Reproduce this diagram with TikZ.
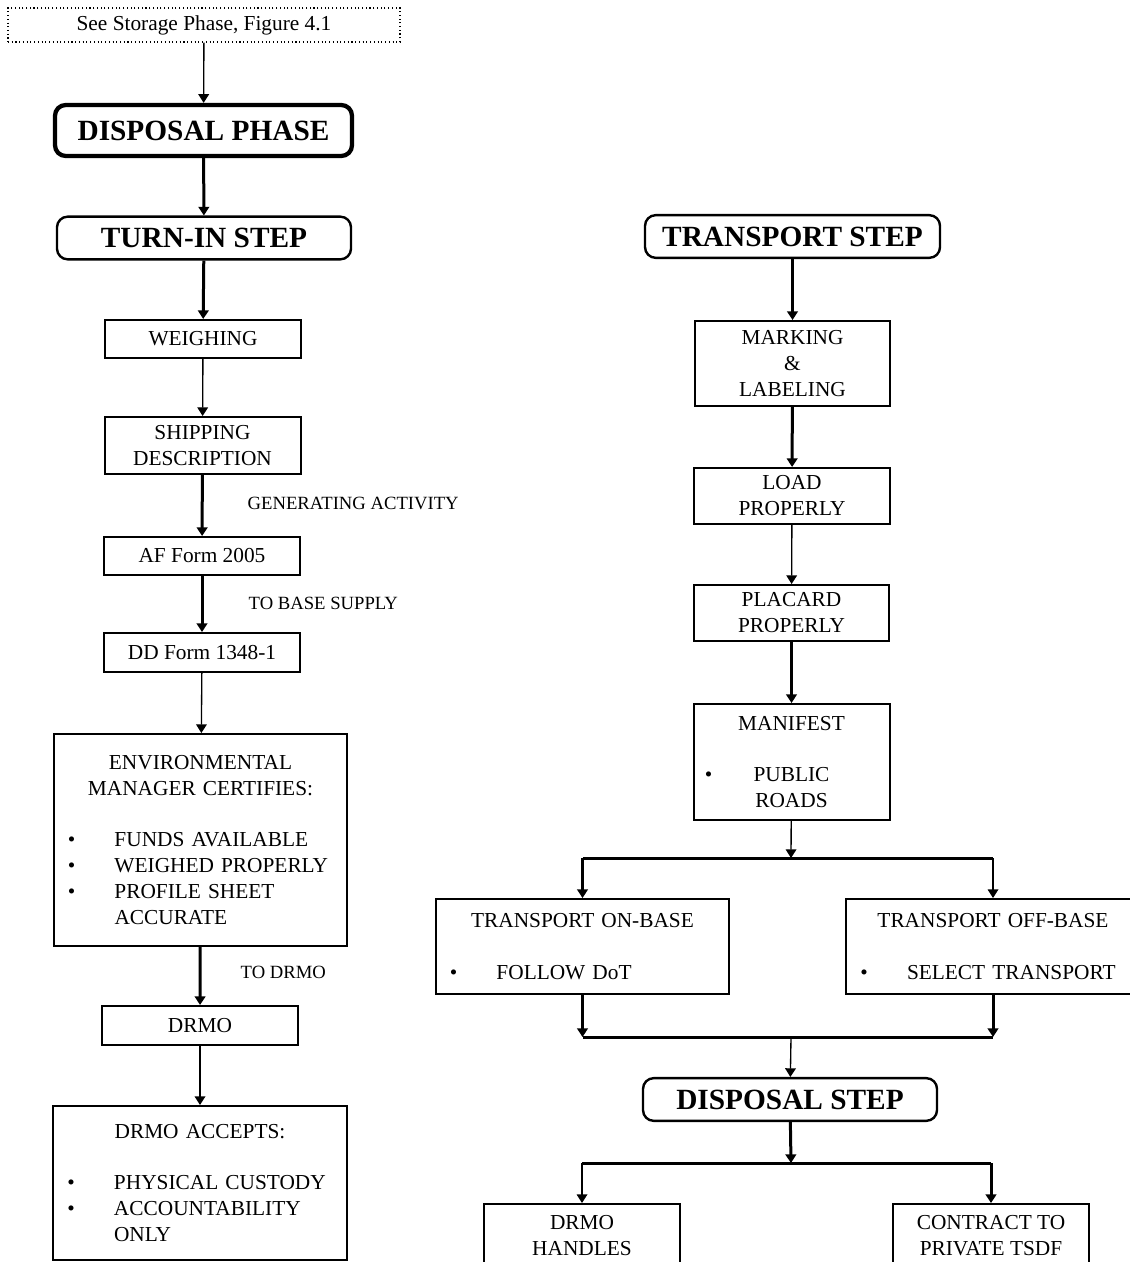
\documentclass[tikz,border=0pt]{standalone}
\usepackage{fontspec}
\setmainfont{Liberation Serif}
\usepackage{tikz}
\usetikzlibrary{arrows.meta}

\newcommand\bitem[1]{\makebox[\hsize][l]{\makebox[35pt][l]{\textbullet}#1}}
\newcommand\bcont[1]{\makebox[\hsize][l]{\hspace{35pt}#1}}

\begin{document}
\begin{tikzpicture}[x=0.75pt, y=-0.75pt,
  every node/.style={font=\fontsize{16}{19.5}\selectfont},
  box/.style={draw, line width=1.5pt, align=center, minimum width=147pt, minimum height=28.5pt},
  wbox/.style={draw, line width=1.5pt, align=center, text width=199pt, inner xsep=10.5pt},
  title/.style={draw, rounded corners=8pt, line width=1.8pt, font=\fontsize{22}{26}\selectfont\bfseries, minimum width=220.5pt, minimum height=32pt},
  seebox/.style={draw, dotted, line width=0.8pt, minimum width=294pt, minimum height=25.5pt},
  lbl/.style={font=\fontsize{14}{17}\selectfont, anchor=west},
  thickarr/.style={line width=2.25pt, -{Triangle[width=8pt,length=6.5pt]}},
  thinarr/.style={line width=1pt, -{Triangle[width=8pt,length=6.5pt]}},
  wire/.style={line width=2.25pt}]
\useasboundingbox (0,0) rectangle (1130,1262);

% left column
\node[seebox] (see) at (204,25) {See Storage Phase, Figure 4.1};
\node[title, line width=3.2pt, minimum width=222.75pt, minimum height=38.25pt] (phase) at (203.5,130.5) {DISPOSAL PHASE};
\node[title] (turnin) at (204,238) {TURN-IN STEP};
\node[box] (weigh) at (203,339) {WEIGHING};
\node[box, minimum height=42.75pt] (ship) at (202.5,445.5) {SHIPPING\\DESCRIPTION};
\node[box] (af) at (202,556) {AF Form 2005};
\node[box, minimum height=29.25pt] (dd) at (202,652.5) {DD Form 1348-1};
\node[wbox, minimum height=159pt] (env) at (200.5,840) {ENVIRONMENTAL\\MANAGER CERTIFIES:\\[19pt]\bitem{FUNDS AVAILABLE}\\\bitem{WEIGHED PROPERLY}\\\bitem{PROFILE SHEET}\\\bcont{ACCURATE}};
\node[box, minimum height=29.25pt] (drmo) at (200,1025.5) {DRMO};
\node[wbox, minimum height=115.5pt] (accepts) at (200,1183) {DRMO ACCEPTS:\\[19pt]\bitem{PHYSICAL CUSTODY}\\\bitem{ACCOUNTABILITY}\\\bcont{ONLY}};

\node[lbl] (genact) at (243,503) {GENERATING ACTIVITY};
\node[lbl] (tobase) at (244,603) {TO BASE SUPPLY};
\node[lbl] (todrmo) at (236,972) {TO DRMO};

\draw[thinarr] (see) -- (phase);
\draw[thickarr] (phase) -- (turnin);
\draw[thickarr] (turnin) -- (weigh);
\draw[thinarr] (weigh) -- (ship);
\draw[thickarr] (ship) -- (af);
\draw[thickarr] (af) -- (dd);
\draw[thinarr] (dd) -- (env);
\draw[thickarr] (env) -- (drmo);
\draw[thinarr] (drmo) -- (accepts);

% right column
\node[title, minimum width=221.25pt] (tstep) at (792.5,236.5) {TRANSPORT STEP};
\node[box, minimum width=146.25pt, minimum height=63.75pt] (mark) at (792.5,363.5) {MARKING\\\&\\LABELING};
\node[box, minimum height=42pt] (load) at (792,496) {LOAD\\PROPERLY};
\node[box, minimum width=146.25pt, minimum height=42pt] (placard) at (791.5,613) {PLACARD\\PROPERLY};
\node[box, text width=130pt, inner xsep=8pt, minimum height=87pt] (manifest) at (791.5,762) {MANIFEST\\[19pt]\leavevmode\rlap{\textbullet}\makebox[\hsize]{PUBLIC}\\ROADS};
\node[wbox, minimum height=71.25pt] (onbase) at (582.5,946.5) {TRANSPORT ON-BASE\\[19pt]\bitem{FOLLOW DoT}};
\node[wbox, minimum height=71.25pt] (offbase) at (993,946.5) {TRANSPORT OFF-BASE\\[19pt]\bitem{SELECT TRANSPORT}};
\node[title] (dstep) at (790,1099.5) {DISPOSAL STEP};
\node[box, anchor=north, minimum height=48pt] (handles) at (582,1203) {DRMO\\HANDLES};
\node[box, anchor=north, minimum height=48pt] (contract) at (991,1203) {CONTRACT TO\\PRIVATE TSDF};

\coordinate (split1) at (791,858);
\coordinate (join1) at (791,1037);
\coordinate (split2) at (791,1163);

\draw[thickarr] (tstep) -- (mark);
\draw[thickarr] (mark) -- (load);
\draw[thinarr] (load) -- (placard);
\draw[thickarr] (placard) -- (manifest);
\draw[thinarr] (manifest) -- (split1);
\draw[wire] (onbase.north |- split1) -- (offbase.north |- split1);
\draw[thickarr] (onbase.north |- split1) -- (onbase);
\draw[thinarr] (offbase.north |- split1) -- (offbase);
\draw[thickarr] (onbase) -- (onbase.south |- join1);
\draw[thickarr] (offbase) -- (offbase.south |- join1);
\draw[wire] (onbase.south |- join1) -- (offbase.south |- join1);
\draw[thinarr] (join1) -- (dstep);
\draw[thickarr] (dstep) -- (split2);
\draw[wire] (handles.north |- split2) -- (contract.north |- split2);
\draw[thinarr] (handles.north |- split2) -- (handles);
\draw[thickarr] (contract.north |- split2) -- (contract);
\end{tikzpicture}
\end{document}
